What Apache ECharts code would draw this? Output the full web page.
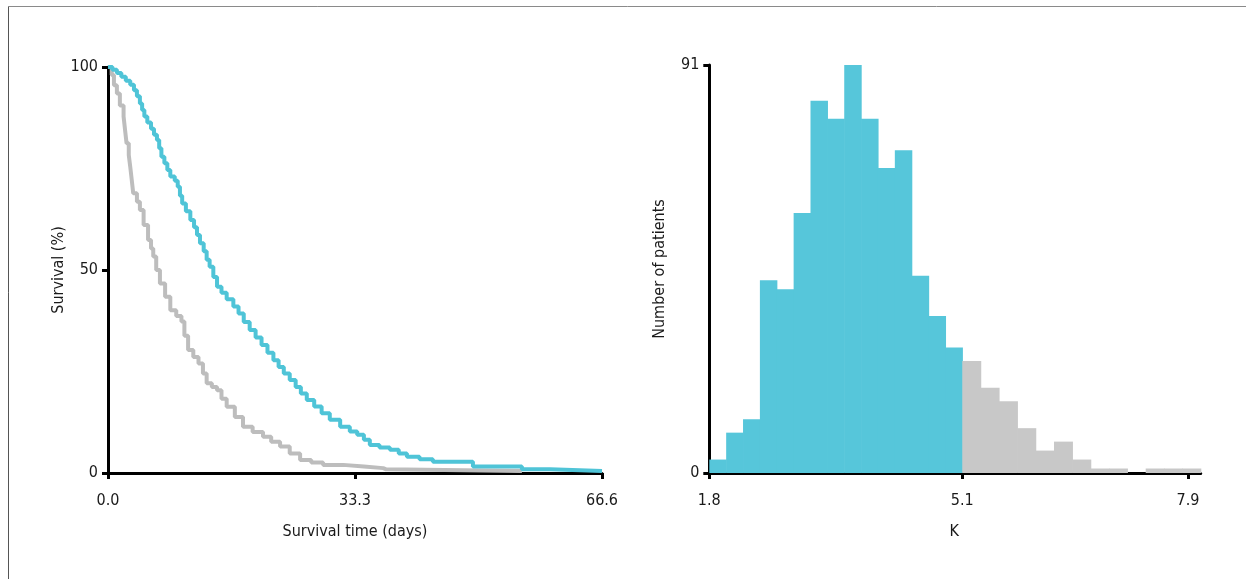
<!DOCTYPE html>
<html>
<head>
<meta charset="utf-8">
<script src="https://cdn.jsdelivr.net/npm/echarts@6/dist/echarts.min.js"></script>
<style>
html,body{margin:0;padding:0;background:#fff;}
#c{width:1246px;height:579px;}
</style>
</head>
<body>
<div id="c"></div>
<script>
// ---- Left panel: Kaplan-Meier survival curves ----
const survTicksX = [0, 33.3, 66.6];
const survTicksY = [0, 50, 100];
const blueDays = [0, 0.6, 1.2, 1.8, 2.4, 3.0, 3.5, 3.9, 4.3, 4.6, 4.9, 5.3, 5.8, 6.2, 6.6, 6.9, 7.2, 7.6, 8.0, 8.4, 9.0, 9.4, 9.7, 10.0, 10.5, 11.1, 11.6, 12.0, 12.4, 12.9, 13.3, 13.7, 14.2, 14.7, 15.3, 16.0, 16.9, 17.6, 18.3, 19.1, 19.9, 20.7, 21.5, 22.3, 23.0, 23.7, 24.5, 25.3, 26.0, 26.8, 27.8, 28.8, 29.9, 31.3, 32.6, 33.6, 34.5, 35.3, 36.6, 38.0, 39.2, 40.3, 42.0, 43.8, 49.2, 55.8, 59.6, 66.6];
const blueSurv = [100, 99.3, 98.5, 97.6, 96.6, 95.6, 94.3, 92.8, 91.0, 89.4, 87.8, 86.3, 84.8, 83.3, 82, 80, 77.9, 76.3, 74.6, 73, 72, 70.5, 68.3, 66.4, 64.5, 62.3, 60.5, 58.6, 56.6, 54.6, 52.5, 50.8, 48.3, 45.9, 44.4, 42.8, 41, 39.3, 37.2, 35.2, 33.4, 31.5, 29.6, 27.8, 26.1, 24.5, 22.9, 21.2, 19.6, 18, 16.4, 14.7, 13.1, 11.4, 10.2, 9.4, 8.2, 6.9, 6.3, 5.7, 4.8, 4.0, 3.4, 2.8, 1.6, 0.9, 0.5, 0.5];
const grayDays = [0, 0.5, 0.8, 1.2, 1.6, 2.1, 2.3, 2.5, 2.8, 3.0, 3.2, 3.4, 3.9, 4.3, 4.8, 5.4, 5.8, 6.1, 6.5, 7.0, 7.7, 8.4, 9.2, 9.9, 10.3, 10.8, 11.5, 12.2, 12.8, 13.3, 14.0, 14.7, 15.3, 16.0, 17.1, 18.2, 19.5, 20.9, 22.0, 23.2, 24.5, 25.9, 27.4, 29.0, 31.7, 34.5, 37.1, 37.5, 55.8];
const graySurv = [100, 98, 95.5, 93.5, 90.5, 87.8, 84.5, 81.2, 78.3, 75.4, 72.2, 68.9, 66.8, 64.8, 61.1, 57.4, 55.3, 53.3, 50, 46.7, 43.4, 40.1, 38.7, 37.3, 33.8, 30.3, 28.6, 27, 24.5, 22.1, 21.2, 20.4, 18.3, 16.3, 13.8, 11.4, 10.1, 8.9, 7.7, 6.5, 4.8, 3.2, 2.6, 2.0, 1.6, 1.2, 0.9, 0.5, 0.5];

// ---- Right panel: histogram of K ----
const kMin = 1.8, kThreshold = 5.1, kMax = 7.9;
const kTickLabels = ['1.8', '5.1', '7.9'];
const lowCounts = [3, 9, 12, 43, 41, 58, 83, 79, 91, 79, 68, 72, 44, 35, 28];
const highCounts = [25, 19, 16, 10, 5, 7, 3, 1, 1, 0, 1, 1, 1];
const countMax = 91;

const BLUE = '#56c6da';
const GRAY = '#c8c8c8';
const FONT = "'Liberation Sans Narrow','DejaVu Sans Condensed',sans-serif";

const chart = echarts.init(document.getElementById('c'), null, {renderer: 'canvas'});

function zip(a, b) { return a.map((v, i) => [v, b[i]]); }

// histogram bins: low group spans kMin..kThreshold, high group spans kThreshold..end
const lowWidth = (kThreshold - kMin) / lowCounts.length;
const highWidth = 0.2275;
const lowBins = lowCounts.map((c, i) => [kMin + i * lowWidth, kMin + (i + 1) * lowWidth, c]);
const highBins = highCounts.map((c, i) => [kThreshold + i * highWidth, kThreshold + (i + 1) * highWidth, c]);
const highEnd = kThreshold + highCounts.length * highWidth;

function renderBin(color) {
  return function (params, api) {
    const p0 = api.coord([api.value(0), api.value(2)]);
    const p1 = api.coord([api.value(1), 0]);
    return {
      type: 'rect',
      shape: {x: p0[0], y: p0[1], width: p1[0] - p0[0] + 0.6, height: p1[1] - p0[1]},
      style: {fill: color}
    };
  };
}

const axisLineStyle = {color: '#000', width: 3};
const labelStyle = {color: '#1a1a1a', fontSize: 16, fontFamily: FONT};

const option = {
  animation: false,
  backgroundColor: '#fff',
  graphic: [
    {type: 'line', shape: {x1: 8.5, y1: 6.5, x2: 1246, y2: 6.5}, style: {stroke: '#8a8a8a', lineWidth: 1}},
    {type: 'line', shape: {x1: 8.5, y1: 6.5, x2: 8.5, y2: 579}, style: {stroke: '#555', lineWidth: 1}}
  ],
  grid: [
    {left: 108, top: 67, width: 494, height: 406},
    {left: 709.3, top: 65, width: 253, height: 408},
    {left: 962.3, top: 65, width: 238.4, height: 408}
  ],
  xAxis: [
    {
      gridIndex: 0, type: 'value', min: survTicksX[0], max: survTicksX[2],
      name: 'Survival time (days)', nameLocation: 'middle', nameGap: 51,
      nameTextStyle: labelStyle,
      axisLine: {show: true, onZero: false, lineStyle: axisLineStyle},
      axisTick: {show: true, length: 6, lineStyle: {color: '#000', width: 3}, customValues: survTicksX},
      axisLabel: {show: true, margin: 20, ...labelStyle, customValues: survTicksX,
        formatter: v => v.toFixed(1)},
      splitLine: {show: false}
    },
    {
      gridIndex: 1, type: 'value', min: kMin, max: kThreshold,
      name: 'K', nameLocation: 'end', nameGap: -8,
      nameTextStyle: {...labelStyle, verticalAlign: 'top', align: 'center', padding: [51, 0, 0, 0]},
      axisLine: {show: true, onZero: false, lineStyle: axisLineStyle},
      axisTick: {show: true, length: 6, lineStyle: {color: '#000', width: 3}, customValues: [kMin, kThreshold]},
      axisLabel: {show: true, margin: 20, ...labelStyle, customValues: [kMin, kThreshold],
        formatter: v => (Math.abs(v - kMin) < 1e-6 ? kTickLabels[0] : kTickLabels[1])},
      splitLine: {show: false}
    },
    {
      gridIndex: 2, type: 'value', min: kThreshold, max: highEnd,
      axisLine: {show: true, onZero: false, lineStyle: axisLineStyle},
      axisTick: {show: true, length: 6, lineStyle: {color: '#000', width: 3}, customValues: [kMax]},
      axisLabel: {show: true, margin: 20, ...labelStyle, customValues: [kMax],
        formatter: () => kTickLabels[2]},
      splitLine: {show: false}
    }
  ],
  yAxis: [
    {
      gridIndex: 0, type: 'value', min: 0, max: 100,
      name: 'Survival (%)', nameLocation: 'middle', nameGap: 31,
      nameTextStyle: labelStyle,
      axisLine: {show: true, onZero: false, lineStyle: axisLineStyle},
      axisTick: {show: true, length: 6, lineStyle: {color: '#000', width: 3}, customValues: survTicksY},
      axisLabel: {show: true, margin: 10, ...labelStyle, customValues: survTicksY},
      splitLine: {show: false}
    },
    {
      gridIndex: 1, type: 'value', min: 0, max: countMax,
      name: 'Number of patients', nameLocation: 'middle', nameGap: 41,
      nameTextStyle: labelStyle,
      axisLine: {show: true, onZero: false, lineStyle: axisLineStyle},
      axisTick: {show: true, length: 6, lineStyle: {color: '#000', width: 3}, customValues: [0, countMax]},
      axisLabel: {show: true, margin: 10, ...labelStyle, customValues: [0, countMax]},
      splitLine: {show: false}
    },
    {
      gridIndex: 2, type: 'value', min: 0, max: countMax, show: false
    }
  ],
  series: [
    {
      type: 'line', xAxisIndex: 0, yAxisIndex: 0, step: 'end', symbol: 'none',
      data: zip(grayDays, graySurv), lineStyle: {color: '#bdbdbd', width: 4}, z: 3
    },
    {
      type: 'line', xAxisIndex: 0, yAxisIndex: 0, step: 'end', symbol: 'none',
      data: zip(blueDays, blueSurv), lineStyle: {color: '#4fc4d7', width: 4}, z: 4
    },
    {
      type: 'custom', xAxisIndex: 1, yAxisIndex: 1, renderItem: renderBin(BLUE),
      data: lowBins, encode: {x: [0, 1], y: 2}, clip: false
    },
    {
      type: 'custom', xAxisIndex: 2, yAxisIndex: 2, renderItem: renderBin(GRAY),
      data: highBins, encode: {x: [0, 1], y: 2}, clip: false
    }
  ]
};
chart.setOption(option);
</script>
</body>
</html>
